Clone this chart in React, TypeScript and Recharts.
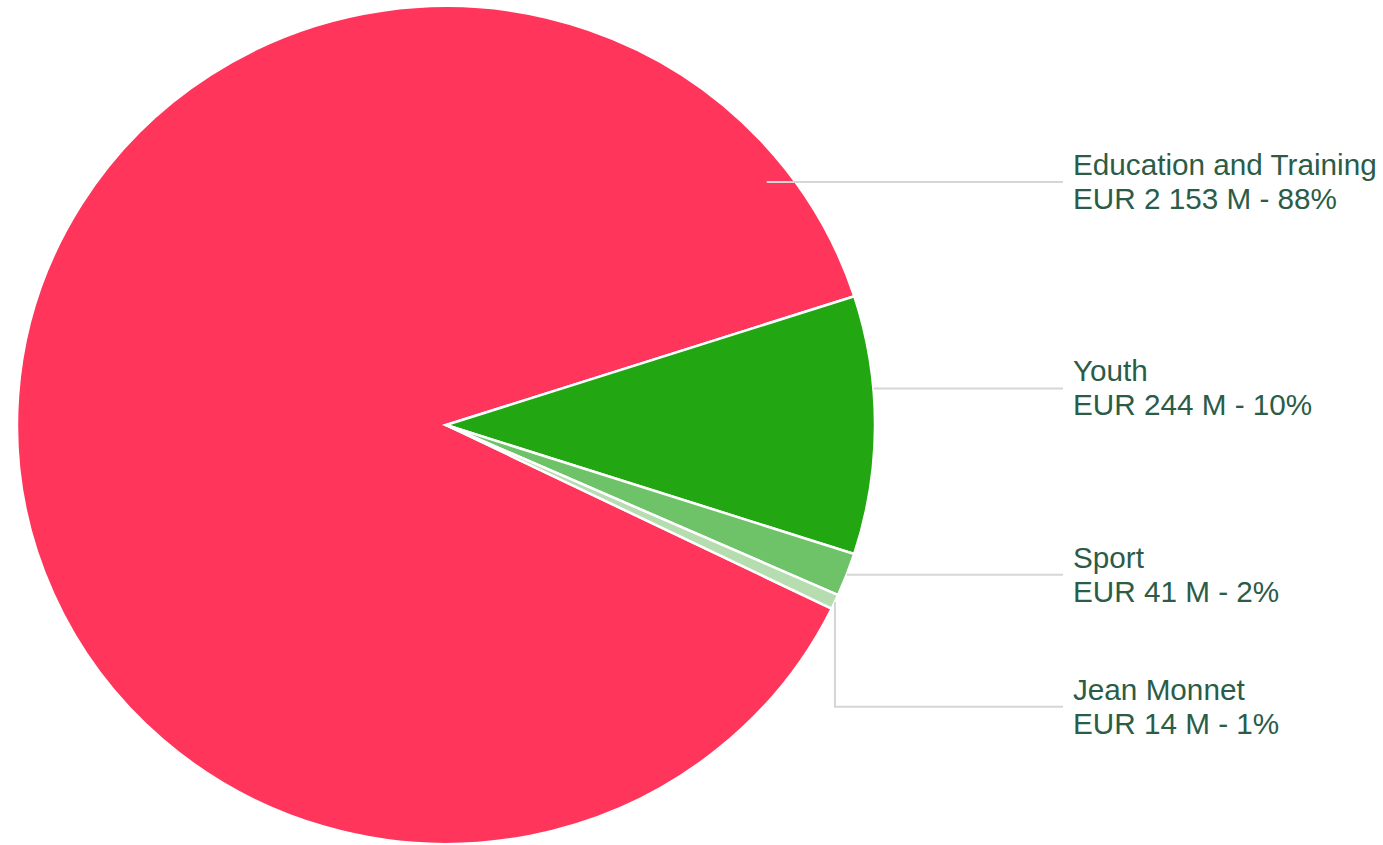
import { PieChart, Pie, Cell } from 'recharts';

// Erasmus+ budget split, EUR million
const programmes = ['Education and Training', 'Youth', 'Sport', 'Jean Monnet'];
const budgetM = [2153, 244, 41, 14];
const sliceColors = ['#ff355b', '#22a712', '#6ec267', '#b5ddb0'];

const data = programmes.map((name, i) => ({ name, value: budgetM[i] }));
const total = budgetM.reduce((s, v) => s + v, 0);

// the reference is a touch wider than tall, so the whole chart is stretched a little
const SX = 1.024;
const W = Math.round(1383 / SX);
const H = 845;
const CX = 446 / SX;
const CY = 425;
const R = 419;
const START = -26;
const END = START - 360;
const LABEL_X = 1073 / SX;
const LINE_END_X = 1063 / SX;
const ROW_GAP = 132;
const RAD = Math.PI / 180;

// where each leader line leaves its slice: fraction along the slice, fraction of the radius
const anchors = [
  { t: 0.937, r: 0.946 },
  { t: 0.36, r: 1 },
  { t: 0.5, r: 1 },
  { t: 0.5, r: 1 },
];

function anchorPoint(i: number, cx: number, cy: number, outer: number) {
  let before = 0;
  for (let j = 0; j < i; j++) before += budgetM[j];
  const a0 = START - (before / total) * 360;
  const span = (budgetM[i] / total) * 360;
  const ang = a0 - anchors[i].t * span;
  const rr = outer * anchors[i].r;
  return { x: cx + rr * Math.cos(ang * RAD), y: cy - rr * Math.sin(ang * RAD) };
}

const fmt = (v: number) => String(v).replace(/\B(?=(\d{3})+(?!\d))/g, ' ');

function renderLabel(props: any) {
  const { cx, cy, outerRadius, index, value, name } = props;
  let rowY = 0;
  let p = { x: 0, y: 0 };
  for (let i = 0; i <= index; i++) {
    p = anchorPoint(i, cx, cy, outerRadius);
    rowY = i === 0 ? p.y : Math.max(p.y, rowY + ROW_GAP);
  }
  const d =
    Math.abs(p.y - rowY) < 0.5
      ? `M${p.x},${p.y}H${LINE_END_X}`
      : `M${p.x},${p.y}V${rowY}H${LINE_END_X}`;
  return (
    <g key={`lbl-${index}`}>
      <path d={d} stroke="#d6d6d6" strokeWidth={2} fill="none" />
      <text
        x={LABEL_X}
        y={rowY}
        fill="#2b5c48"
        fontSize={29}
        fontFamily="'Liberation Sans', Arial, sans-serif"
      >
        <tspan x={LABEL_X} dy={-7}>{name}</tspan>
        <tspan x={LABEL_X} dy={34}>
          {`EUR ${fmt(value)} M - ${Math.round((value / total) * 100)}%`}
        </tspan>
      </text>
    </g>
  );
}

export default function App() {
  return (
    <div
      style={{
        position: 'absolute',
        left: 0,
        top: 0,
        width: W,
        height: H,
        background: '#fff',
        transform: `scaleX(${SX})`,
        transformOrigin: '0 0',
      }}
    >
      <PieChart width={W} height={H} margin={{ top: 0, right: 0, bottom: 0, left: 0 }}>
        <Pie
          data={data}
          dataKey="value"
          nameKey="name"
          cx={CX}
          cy={CY}
          outerRadius={R}
          startAngle={START}
          endAngle={END}
          stroke="#ffffff"
          strokeWidth={2.5}
          label={renderLabel}
          labelLine={false}
          isAnimationActive={false}
        >
          {data.map((d, i) => (
            <Cell key={d.name} fill={sliceColors[i]} />
          ))}
        </Pie>
      </PieChart>
    </div>
  );
}
